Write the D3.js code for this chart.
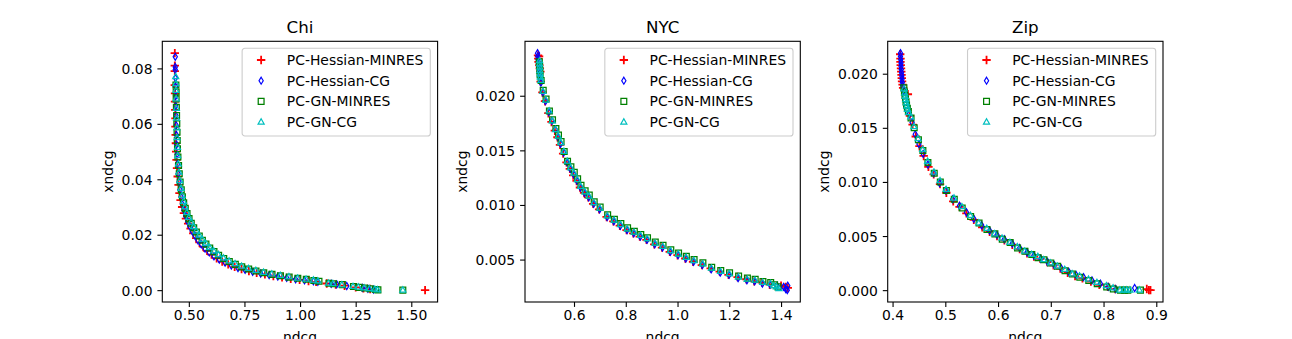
<!DOCTYPE html>
<html><head><meta charset="utf-8">
<script src="https://cdn.jsdelivr.net/npm/d3@7"></script>
<style>body{margin:0;background:#fff} svg{display:block} text{font-family:"DejaVu Sans",sans-serif;fill:#000}</style>
</head><body>
<svg id="chart" width="1292" height="339"></svg>
<script>
// ---------- data ----------
const seriesNames = ["PC-Hessian-MINRES", "PC-Hessian-CG", "PC-GN-MINRES", "PC-GN-CG"];
const panelTitles = ["Chi", "NYC", "Zip"];
const xLabel = "ndcg";
const yLabel = "xndcg";

// Chi  [ndcg, xndcg]
const chiHessianMinres = [[0.437,0.0855],[0.437,0.0810],[0.437,0.0790],[0.437,0.0740],[0.438,0.0710],[0.438,0.0680],[0.439,0.0650],[0.440,0.0620],[0.440,0.0590],[0.441,0.0560],[0.442,0.0530],[0.443,0.0500],[0.445,0.0470],[0.447,0.0440],[0.450,0.0410],[0.454,0.0380],[0.458,0.0350],[0.463,0.0325],[0.470,0.0300],[0.478,0.0278],[0.487,0.0258],[0.497,0.0240],[0.508,0.0222],[0.520,0.0205],[0.533,0.0188],[0.548,0.0172],[0.564,0.0157],[0.582,0.0142],[0.602,0.0128],[0.625,0.0115],[0.650,0.0103],[0.677,0.0093],[0.706,0.0084],[0.737,0.0076],[0.770,0.0069],[0.805,0.0063],[0.842,0.0057],[0.880,0.0051],[0.919,0.0046],[0.958,0.0041],[0.998,0.0037],[1.038,0.0033],[1.072,0.0030],[1.120,0.0024],[1.160,0.0020],[1.200,0.0016],[1.250,0.0010],[1.285,0.0007],[1.315,0.0004],[1.562,0.0000]];
const chiHessianCG = [[0.439,0.0842],[0.439,0.0805],[0.439,0.0795],[0.440,0.0765],[0.440,0.0735],[0.441,0.0700],[0.441,0.0665],[0.442,0.0630],[0.443,0.0595],[0.444,0.0560],[0.445,0.0525],[0.447,0.0490],[0.449,0.0455],[0.452,0.0420],[0.456,0.0390],[0.460,0.0362],[0.465,0.0336],[0.471,0.0310],[0.478,0.0288],[0.486,0.0267],[0.495,0.0247],[0.505,0.0229],[0.516,0.0212],[0.528,0.0196],[0.541,0.0180],[0.556,0.0165],[0.573,0.0150],[0.592,0.0136],[0.613,0.0122],[0.637,0.0110],[0.663,0.0099],[0.691,0.0089],[0.721,0.0080],[0.753,0.0073],[0.787,0.0066],[0.823,0.0060],[0.861,0.0054],[0.900,0.0049],[0.940,0.0044],[0.980,0.0039],[1.020,0.0035],[1.060,0.0032],[1.080,0.0030],[1.140,0.0023],[1.165,0.0021],[1.210,0.0015],[1.280,0.0008],[1.305,0.0005],[1.330,0.0002]];
const chiGNMinres = [[0.442,0.0740],[0.443,0.0715],[0.443,0.0690],[0.444,0.0660],[0.445,0.0630],[0.446,0.0600],[0.447,0.0570],[0.448,0.0540],[0.449,0.0510],[0.451,0.0480],[0.454,0.0450],[0.457,0.0420],[0.461,0.0390],[0.466,0.0362],[0.471,0.0337],[0.477,0.0315],[0.484,0.0295],[0.492,0.0276],[0.501,0.0258],[0.511,0.0241],[0.522,0.0225],[0.534,0.0210],[0.547,0.0195],[0.561,0.0180],[0.577,0.0166],[0.594,0.0152],[0.613,0.0139],[0.634,0.0126],[0.657,0.0114],[0.682,0.0103],[0.709,0.0093],[0.738,0.0084],[0.769,0.0076],[0.802,0.0069],[0.837,0.0063],[0.874,0.0057],[0.912,0.0052],[0.951,0.0047],[0.990,0.0043],[1.028,0.0039],[1.062,0.0035],[1.085,0.0032],[1.130,0.0025],[1.150,0.0023],[1.190,0.0020],[1.240,0.0013],[1.265,0.0010],[1.290,0.0008],[1.315,0.0005],[1.340,0.0002],[1.350,0.0001],[1.462,0.0000]];
const chiGNCG = [[0.441,0.0770],[0.442,0.0745],[0.442,0.0720],[0.443,0.0690],[0.444,0.0655],[0.445,0.0620],[0.446,0.0585],[0.447,0.0550],[0.449,0.0515],[0.450,0.0485],[0.453,0.0455],[0.456,0.0425],[0.460,0.0395],[0.465,0.0367],[0.470,0.0342],[0.476,0.0320],[0.483,0.0300],[0.491,0.0280],[0.500,0.0262],[0.510,0.0245],[0.521,0.0229],[0.533,0.0213],[0.546,0.0198],[0.560,0.0183],[0.576,0.0168],[0.593,0.0154],[0.612,0.0141],[0.633,0.0128],[0.656,0.0116],[0.681,0.0105],[0.708,0.0095],[0.737,0.0086],[0.768,0.0078],[0.801,0.0071],[0.836,0.0064],[0.873,0.0058],[0.911,0.0053],[0.950,0.0048],[0.989,0.0043],[1.027,0.0039],[1.060,0.0036],[1.080,0.0033],[1.128,0.0025],[1.148,0.0023],[1.188,0.0019],[1.238,0.0013],[1.262,0.0011],[1.288,0.0008],[1.312,0.0005],[1.336,0.0003],[1.348,0.0001],[1.462,0.0000]];

// NYC
const nycHessianMinres = [[0.461,0.0237],[0.462,0.0234],[0.463,0.0231],[0.465,0.0236],[0.466,0.0228],[0.468,0.0225],[0.470,0.0222],[0.471,0.0213],[0.478,0.0203],[0.488,0.0195],[0.501,0.0184],[0.513,0.0176],[0.526,0.0168],[0.536,0.0162],[0.546,0.0155],[0.558,0.0147],[0.571,0.0139],[0.584,0.0133],[0.597,0.0127],[0.610,0.0122],[0.623,0.0116],[0.639,0.0111],[0.655,0.0107],[0.674,0.0101],[0.697,0.0096],[0.726,0.0089],[0.752,0.0085],[0.777,0.0081],[0.803,0.0077],[0.829,0.0074],[0.854,0.0071],[0.880,0.0068],[0.910,0.0064],[0.940,0.0061],[0.970,0.0057],[1.000,0.0054],[1.030,0.0051],[1.060,0.0048],[1.094,0.0045],[1.128,0.0042],[1.163,0.0039],[1.197,0.0036],[1.232,0.0034],[1.266,0.0032],[1.296,0.0030],[1.326,0.0029],[1.356,0.0027],[1.400,0.0026],[1.418,0.0025],[1.426,0.0024]];
const nycHessianCG = [[0.459,0.0239],[0.460,0.0236],[0.461,0.0233],[0.462,0.0230],[0.463,0.0227],[0.465,0.0224],[0.467,0.0220],[0.472,0.0212],[0.480,0.0203],[0.490,0.0195],[0.503,0.0185],[0.515,0.0177],[0.528,0.0169],[0.538,0.0162],[0.548,0.0156],[0.560,0.0148],[0.573,0.0139],[0.586,0.0133],[0.599,0.0128],[0.612,0.0122],[0.625,0.0116],[0.641,0.0111],[0.657,0.0107],[0.676,0.0101],[0.699,0.0096],[0.728,0.0089],[0.754,0.0085],[0.779,0.0081],[0.805,0.0077],[0.831,0.0074],[0.856,0.0071],[0.882,0.0068],[0.912,0.0064],[0.942,0.0061],[0.972,0.0057],[1.002,0.0054],[1.032,0.0051],[1.062,0.0048],[1.096,0.0045],[1.130,0.0041],[1.165,0.0038],[1.199,0.0036],[1.234,0.0033],[1.268,0.0031],[1.298,0.0030],[1.328,0.0028],[1.358,0.0027],[1.385,0.0026],[1.410,0.0025],[1.418,0.0023],[1.424,0.0022],[1.426,0.0026]];
const nycGNMinres = [[0.466,0.0231],[0.467,0.0227],[0.468,0.0223],[0.469,0.0219],[0.473,0.0214],[0.481,0.0205],[0.492,0.0197],[0.505,0.0186],[0.517,0.0178],[0.530,0.0170],[0.540,0.0164],[0.550,0.0158],[0.562,0.0149],[0.575,0.0140],[0.588,0.0135],[0.601,0.0130],[0.614,0.0124],[0.627,0.0118],[0.643,0.0113],[0.659,0.0109],[0.678,0.0103],[0.701,0.0098],[0.730,0.0091],[0.756,0.0087],[0.781,0.0083],[0.807,0.0079],[0.833,0.0076],[0.858,0.0073],[0.884,0.0070],[0.914,0.0066],[0.944,0.0063],[0.974,0.0059],[1.004,0.0056],[1.034,0.0053],[1.064,0.0050],[1.098,0.0047],[1.132,0.0043],[1.167,0.0040],[1.201,0.0038],[1.236,0.0035],[1.270,0.0033],[1.300,0.0032],[1.330,0.0030],[1.360,0.0029],[1.375,0.0027],[1.388,0.0025]];
const nycGNCG = [[0.467,0.0232],[0.467,0.0229],[0.468,0.0226],[0.468,0.0223],[0.469,0.0220],[0.470,0.0217],[0.472,0.0214],[0.480,0.0204],[0.491,0.0196],[0.504,0.0186],[0.516,0.0177],[0.529,0.0169],[0.539,0.0163],[0.549,0.0157],[0.561,0.0149],[0.574,0.0140],[0.587,0.0134],[0.600,0.0129],[0.613,0.0123],[0.626,0.0117],[0.642,0.0112],[0.658,0.0108],[0.677,0.0102],[0.700,0.0097],[0.729,0.0090],[0.755,0.0086],[0.780,0.0082],[0.806,0.0078],[0.832,0.0075],[0.857,0.0072],[0.883,0.0069],[0.913,0.0065],[0.943,0.0062],[0.973,0.0058],[1.003,0.0055],[1.033,0.0052],[1.063,0.0049],[1.097,0.0046],[1.131,0.0042],[1.166,0.0039],[1.200,0.0037],[1.235,0.0034],[1.269,0.0032],[1.299,0.0031],[1.329,0.0029],[1.359,0.0028],[1.372,0.0026],[1.382,0.0025],[1.392,0.00232]];

// Zip
const zipHessianMinres = [[0.4145,0.0218],[0.4150,0.0214],[0.4150,0.0211],[0.4155,0.0208],[0.4160,0.0205],[0.4165,0.0202],[0.4170,0.0199],[0.4175,0.0196],[0.4180,0.0193],[0.4190,0.0190],[0.4200,0.0187],[0.4290,0.0181],[0.433,0.0161],[0.438,0.0153],[0.444,0.0142],[0.451,0.0133],[0.459,0.0124],[0.468,0.0114],[0.478,0.0107],[0.490,0.0098],[0.502,0.0090],[0.515,0.0082],[0.527,0.0077],[0.540,0.0071],[0.554,0.0065],[0.570,0.0058],[0.584,0.0054],[0.598,0.0050],[0.612,0.0046],[0.627,0.0042],[0.641,0.0038],[0.655,0.0034],[0.668,0.0031],[0.680,0.0029],[0.693,0.0026],[0.705,0.0023],[0.718,0.0020],[0.732,0.0016],[0.746,0.0013],[0.760,0.0011],[0.776,0.0008],[0.792,0.0005],[0.808,0.0003],[0.822,0.0001],[0.882,0.0001],[0.886,0.0000],[0.889,0.0000]];
const zipHessianCG = [[0.4150,0.0219],[0.4150,0.0216],[0.4155,0.0213],[0.4160,0.0210],[0.4160,0.0207],[0.4165,0.0204],[0.4170,0.0201],[0.4175,0.0198],[0.4180,0.0195],[0.4185,0.0192],[0.4190,0.0189],[0.4215,0.0184],[0.432,0.0163],[0.437,0.0155],[0.443,0.0144],[0.450,0.0135],[0.458,0.0126],[0.467,0.0116],[0.478,0.0108],[0.489,0.0099],[0.501,0.0092],[0.514,0.0084],[0.527,0.0078],[0.540,0.0072],[0.554,0.0066],[0.569,0.0060],[0.584,0.0055],[0.598,0.0051],[0.612,0.0047],[0.627,0.0043],[0.641,0.0039],[0.655,0.0035],[0.668,0.0032],[0.681,0.0029],[0.694,0.0026],[0.707,0.0023],[0.720,0.0020],[0.734,0.0017],[0.748,0.0014],[0.762,0.0012],[0.778,0.0009],[0.794,0.0006],[0.809,0.0003],[0.823,0.0001],[0.859,0.0002]];
const zipGNMinres = [[0.4215,0.0187],[0.4225,0.0183],[0.4235,0.0180],[0.4245,0.0177],[0.4255,0.0174],[0.4265,0.0171],[0.4280,0.0168],[0.4300,0.0165],[0.435,0.0159],[0.441,0.0150],[0.449,0.0139],[0.4575,0.0129],[0.467,0.0118],[0.479,0.0108],[0.4905,0.0100],[0.502,0.0092],[0.517,0.0084],[0.532,0.0076],[0.548,0.0068],[0.564,0.0062],[0.579,0.0056],[0.594,0.0052],[0.608,0.0047],[0.623,0.0044],[0.637,0.0039],[0.651,0.0036],[0.664,0.0033],[0.676,0.0030],[0.687,0.0028],[0.700,0.0025],[0.713,0.0022],[0.727,0.0018],[0.741,0.0015],[0.755,0.0012],[0.772,0.0009],[0.788,0.0006],[0.806,0.0003],[0.8185,0.0001],[0.832,0.0000],[0.840,0.0000],[0.846,0.0000],[0.870,0.0000]];
const zipGNCG = [[0.4220,0.0186],[0.4230,0.0182],[0.4240,0.0179],[0.4250,0.0176],[0.4260,0.0173],[0.4270,0.0170],[0.4285,0.0167],[0.4305,0.0164],[0.4345,0.0160],[0.4405,0.0151],[0.4485,0.0140],[0.4570,0.0130],[0.4665,0.0119],[0.4785,0.0109],[0.4900,0.0101],[0.5015,0.0093],[0.5165,0.0085],[0.5315,0.0077],[0.5475,0.0069],[0.5635,0.0062],[0.5785,0.0057],[0.5935,0.0052],[0.6075,0.0048],[0.6225,0.0044],[0.6365,0.0040],[0.6505,0.0036],[0.6635,0.0033],[0.6755,0.0031],[0.6865,0.0028],[0.6995,0.0025],[0.7125,0.0022],[0.7265,0.0019],[0.7405,0.0015],[0.7545,0.0013],[0.7715,0.0010],[0.7875,0.0007],[0.8055,0.0004],[0.8180,0.0002],[0.8310,0.0000],[0.8380,0.0000],[0.8440,0.0000],[0.8500,0.0000],[0.8680,0.0000]];

// ticks
const chiXTicks = [0.5, 0.75, 1.0, 1.25, 1.5];
const chiYTicks = [0.00, 0.02, 0.04, 0.06, 0.08];
const nycXTicks = [0.6, 0.8, 1.0, 1.2, 1.4];
const nycYTicks = [0.005, 0.010, 0.015, 0.020];
const zipXTicks = [0.4, 0.5, 0.6, 0.7, 0.8, 0.9];
const zipYTicks = [0.000, 0.005, 0.010, 0.015, 0.020];

// ---------- drawing ----------
const panels = [
  {title: panelTitles[0], series: [chiHessianMinres, chiHessianCG, chiGNMinres, chiGNCG], xt: chiXTicks, yt: chiYTicks, xf: ".2f", yf: ".2f"},
  {title: panelTitles[1], series: [nycHessianMinres, nycHessianCG, nycGNMinres, nycGNCG], xt: nycXTicks, yt: nycYTicks, xf: ".1f", yf: ".3f"},
  {title: panelTitles[2], series: [zipHessianMinres, zipHessianCG, zipGNMinres, zipGNCG], xt: zipXTicks, yt: zipYTicks, xf: ".1f", yf: ".3f"}
];

const colors = ["#ff0000", "#0000ff", "#008000", "#00bfbf"];
const markerPaths = [
  "M-4.2,0H4.2M0,-4.2V4.2",
  "M0,-3.5L2.1,0L0,3.5L-2.1,0Z",
  "M-2.9,-2.9H2.9V2.9H-2.9Z",
  "M0,-3.3L3,1.9L-3,1.9Z"
];
const markerStroke = [1.8, 1.2, 1.25, 1.25];

const svg = d3.select("#chart");
const W = 275.3, plotTop = 41.3, plotBottom = 302;
const lefts = [162.3, 525, 887.7];
const fs = 13.9;

panels.forEach((p, i) => {
  const x0 = lefts[i], x1 = x0 + W;
  const all = p.series.flat();
  const xe = d3.extent(all, d => d[0]), ye = d3.extent(all, d => d[1]);
  const xm = (xe[1] - xe[0]) * 0.05, ym = (ye[1] - ye[0]) * 0.05;
  const x = d3.scaleLinear().domain([xe[0] - xm, xe[1] + xm]).range([x0, x1]);
  const y = d3.scaleLinear().domain([ye[0] - ym, ye[1] + ym]).range([plotBottom, plotTop]);

  const g = svg.append("g");
  p.series.forEach((s, k) => {
    g.append("g").selectAll("path").data(s).join("path")
      .attr("d", markerPaths[k])
      .attr("transform", d => `translate(${x(d[0])},${y(d[1])})`)
      .attr("fill", "none").attr("stroke", colors[k]).attr("stroke-width", markerStroke[k]);
  });

  const xAxis = d3.axisBottom(x).tickValues(p.xt).tickFormat(d3.format(p.xf)).tickSizeOuter(0).tickSize(4.9).tickPadding(4);
  const yAxis = d3.axisLeft(y).tickValues(p.yt).tickFormat(d3.format(p.yf)).tickSizeOuter(0).tickSize(4.9).tickPadding(4.9);
  const gx = g.append("g").attr("transform", `translate(0,${plotBottom})`).call(xAxis);
  const gy = g.append("g").attr("transform", `translate(${x0},0)`).call(yAxis);
  [gx, gy].forEach(a => {
    a.select(".domain").remove();
    a.selectAll(".tick line").attr("stroke", "#000").attr("stroke-width", 1.1);
    a.selectAll(".tick text").attr("font-size", fs).attr("font-family", "DejaVu Sans").attr("fill", "#000");
  });
  gx.selectAll(".tick text").attr("dy", null).attr("y", 18);
  gy.selectAll(".tick text").attr("dy", "0.36em");

  g.append("rect").attr("x", x0).attr("y", plotTop).attr("width", W).attr("height", plotBottom - plotTop)
    .attr("fill", "none").attr("stroke", "#000").attr("stroke-width", 1.1);

  g.append("text").attr("x", (x0 + x1) / 2).attr("y", plotTop - 8.8).attr("text-anchor", "middle")
    .attr("font-size", 16.7).text(p.title);
  g.append("text").attr("x", (x0 + x1) / 2).attr("y", 342).attr("text-anchor", "middle")
    .attr("font-size", fs).text(xLabel);
  let maxW = 0;
  gy.selectAll(".tick text").each(function () { maxW = Math.max(maxW, this.getComputedTextLength()); });
  const ly = x0 - 4.9 - 4.9 - maxW - 5.6 - 3.3;
  g.append("text").attr("transform", `translate(${ly},${(plotTop + plotBottom) / 2}) rotate(-90)`)
    .attr("text-anchor", "middle").attr("font-size", fs).text(yLabel);

  const lg = g.append("g");
  const box = lg.append("rect").attr("fill", "#fff").attr("fill-opacity", 0.8)
    .attr("stroke", "#cccccc").attr("stroke-width", 1.1).attr("rx", 2.8);
  let tw = 0;
  seriesNames.forEach((n, k) => {
    const ry = 11.7 + k * 20.7;
    lg.append("path").attr("d", markerPaths[k]).attr("transform", `translate(19,${ry})`)
      .attr("fill", "none").attr("stroke", colors[k]).attr("stroke-width", markerStroke[k]);
    const t = lg.append("text").attr("x", 44.7).attr("y", ry + 5).attr("font-size", fs).text(n);
    tw = Math.max(tw, t.node().getComputedTextLength());
  });
  const bw = 44.7 + tw + 7, bh = 87.7;
  box.attr("x", 0).attr("y", 0).attr("width", bw).attr("height", bh);
  lg.attr("transform", `translate(${x1 - 7.3 - bw},${plotTop + 7})`);
});
</script>
</body></html>
